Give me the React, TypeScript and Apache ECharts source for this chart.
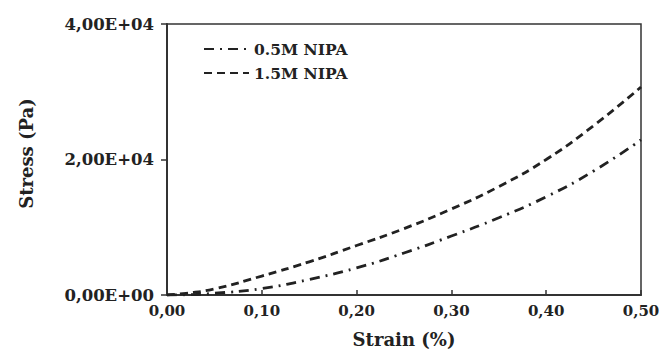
import React, { useEffect, useRef } from "react";
import * as echarts from "echarts";

const strain = [0, 0.02, 0.05, 0.1, 0.15, 0.2, 0.25, 0.3, 0.35, 0.4, 0.45, 0.5];
const stress05 = [0, 40, 250, 950, 2300, 4000, 6200, 8700, 11400, 14500, 18300, 22900];
const stress15 = [0, 250, 900, 2800, 4900, 7300, 9800, 12700, 16000, 20000, 25000, 30700];
const seriesNames = ["0.5M NIPA", "1.5M NIPA"];
const xTicks = [0, 0.1, 0.2, 0.3, 0.4, 0.5];
const yTicks = [0, 20000, 40000];

const FONT = "'DejaVu Serif', 'Liberation Serif', serif";

export default function App() {
  const ref = useRef<HTMLDivElement>(null);
  useEffect(() => {
    if (!ref.current) return;
    const chart = echarts.init(ref.current, undefined, { renderer: "svg" });
    const fmtY = (v: number) => {
      if (v === 0) return "0,00E+00";
      const e = Math.floor(Math.log10(Math.abs(v)));
      const m = v / Math.pow(10, e);
      return m.toFixed(2).replace(".", ",") + "E+" + String(e).padStart(2, "0");
    };
    chart.setOption({
      animation: false,
      backgroundColor: "#fff",
      grid: {
        left: 167,
        right: 18,
        top: 24,
        bottom: 55,
        outerBoundsMode: "none",
        containLabel: false,
        show: true,
        borderColor: "#333",
        borderWidth: 1.5,
      },
      legend: {
        left: 198,
        top: 36,
        orient: "vertical",
        itemWidth: 45,
        itemHeight: 10,
        itemGap: 8,
        data: seriesNames,
        itemStyle: { opacity: 0 },
        textStyle: { fontFamily: FONT, fontWeight: "bold", fontSize: 15.5, color: "#222" },
      },
      xAxis: {
        type: "value",
        min: xTicks[0],
        max: xTicks[xTicks.length - 1],
        interval: 0.1,
        name: "Strain (%)",
        nameLocation: "middle",
        nameGap: 35,
        nameTextStyle: { fontFamily: FONT, fontWeight: "bold", fontSize: 18, color: "#222" },
        axisLine: { lineStyle: { color: "#333", width: 2 } },
        axisTick: { inside: true, length: 5, lineStyle: { color: "#333", width: 1.5 } },
        splitLine: { show: false },
        axisLabel: {
          fontFamily: FONT,
          fontWeight: "bold",
          fontSize: 15,
          color: "#222",
          margin: 8,
          formatter: (v: number) => v.toFixed(2).replace(".", ","),
        },
      },
      yAxis: {
        type: "value",
        min: yTicks[0],
        max: yTicks[yTicks.length - 1],
        interval: 20000,
        name: "Stress (Pa)",
        nameLocation: "middle",
        nameGap: 132,
        nameTextStyle: {
          fontFamily: FONT,
          fontWeight: "bold",
          fontSize: 18,
          color: "#222",
          padding: [0, 0, 0, 12],
        },
        axisLine: { show: true, lineStyle: { color: "#333", width: 2 } },
        axisTick: { show: true, length: 6, lineStyle: { color: "#333", width: 1.5 } },
        splitLine: { show: false },
        axisLabel: {
          fontFamily: FONT,
          fontWeight: "bold",
          fontSize: 16.5,
          color: "#222",
          margin: 13,
          formatter: fmtY,
        },
      },
      series: [
        {
          name: seriesNames[0],
          type: "line",
          smooth: true,
          symbol: "none",
          data: strain.map((x, i) => [x, stress05[i]]),
          lineStyle: { color: "#222", width: 2.8, type: [10, 6, 2, 6] },
          itemStyle: { color: "#222" },
        },
        {
          name: seriesNames[1],
          type: "line",
          smooth: true,
          symbol: "none",
          data: strain.map((x, i) => [x, stress15[i]]),
          lineStyle: { color: "#222", width: 2.8, type: [8, 5] },
          itemStyle: { color: "#222" },
        },
      ],
    });
    return () => chart.dispose();
  }, []);
  return (
    <div
      style={{
        position: "fixed",
        left: 0,
        top: 0,
        width: 659,
        height: 350,
        overflow: "hidden",
        background: "#fff",
      }}
    >
      <div ref={ref} style={{ width: 659, height: 350 }} />
    </div>
  );
}
